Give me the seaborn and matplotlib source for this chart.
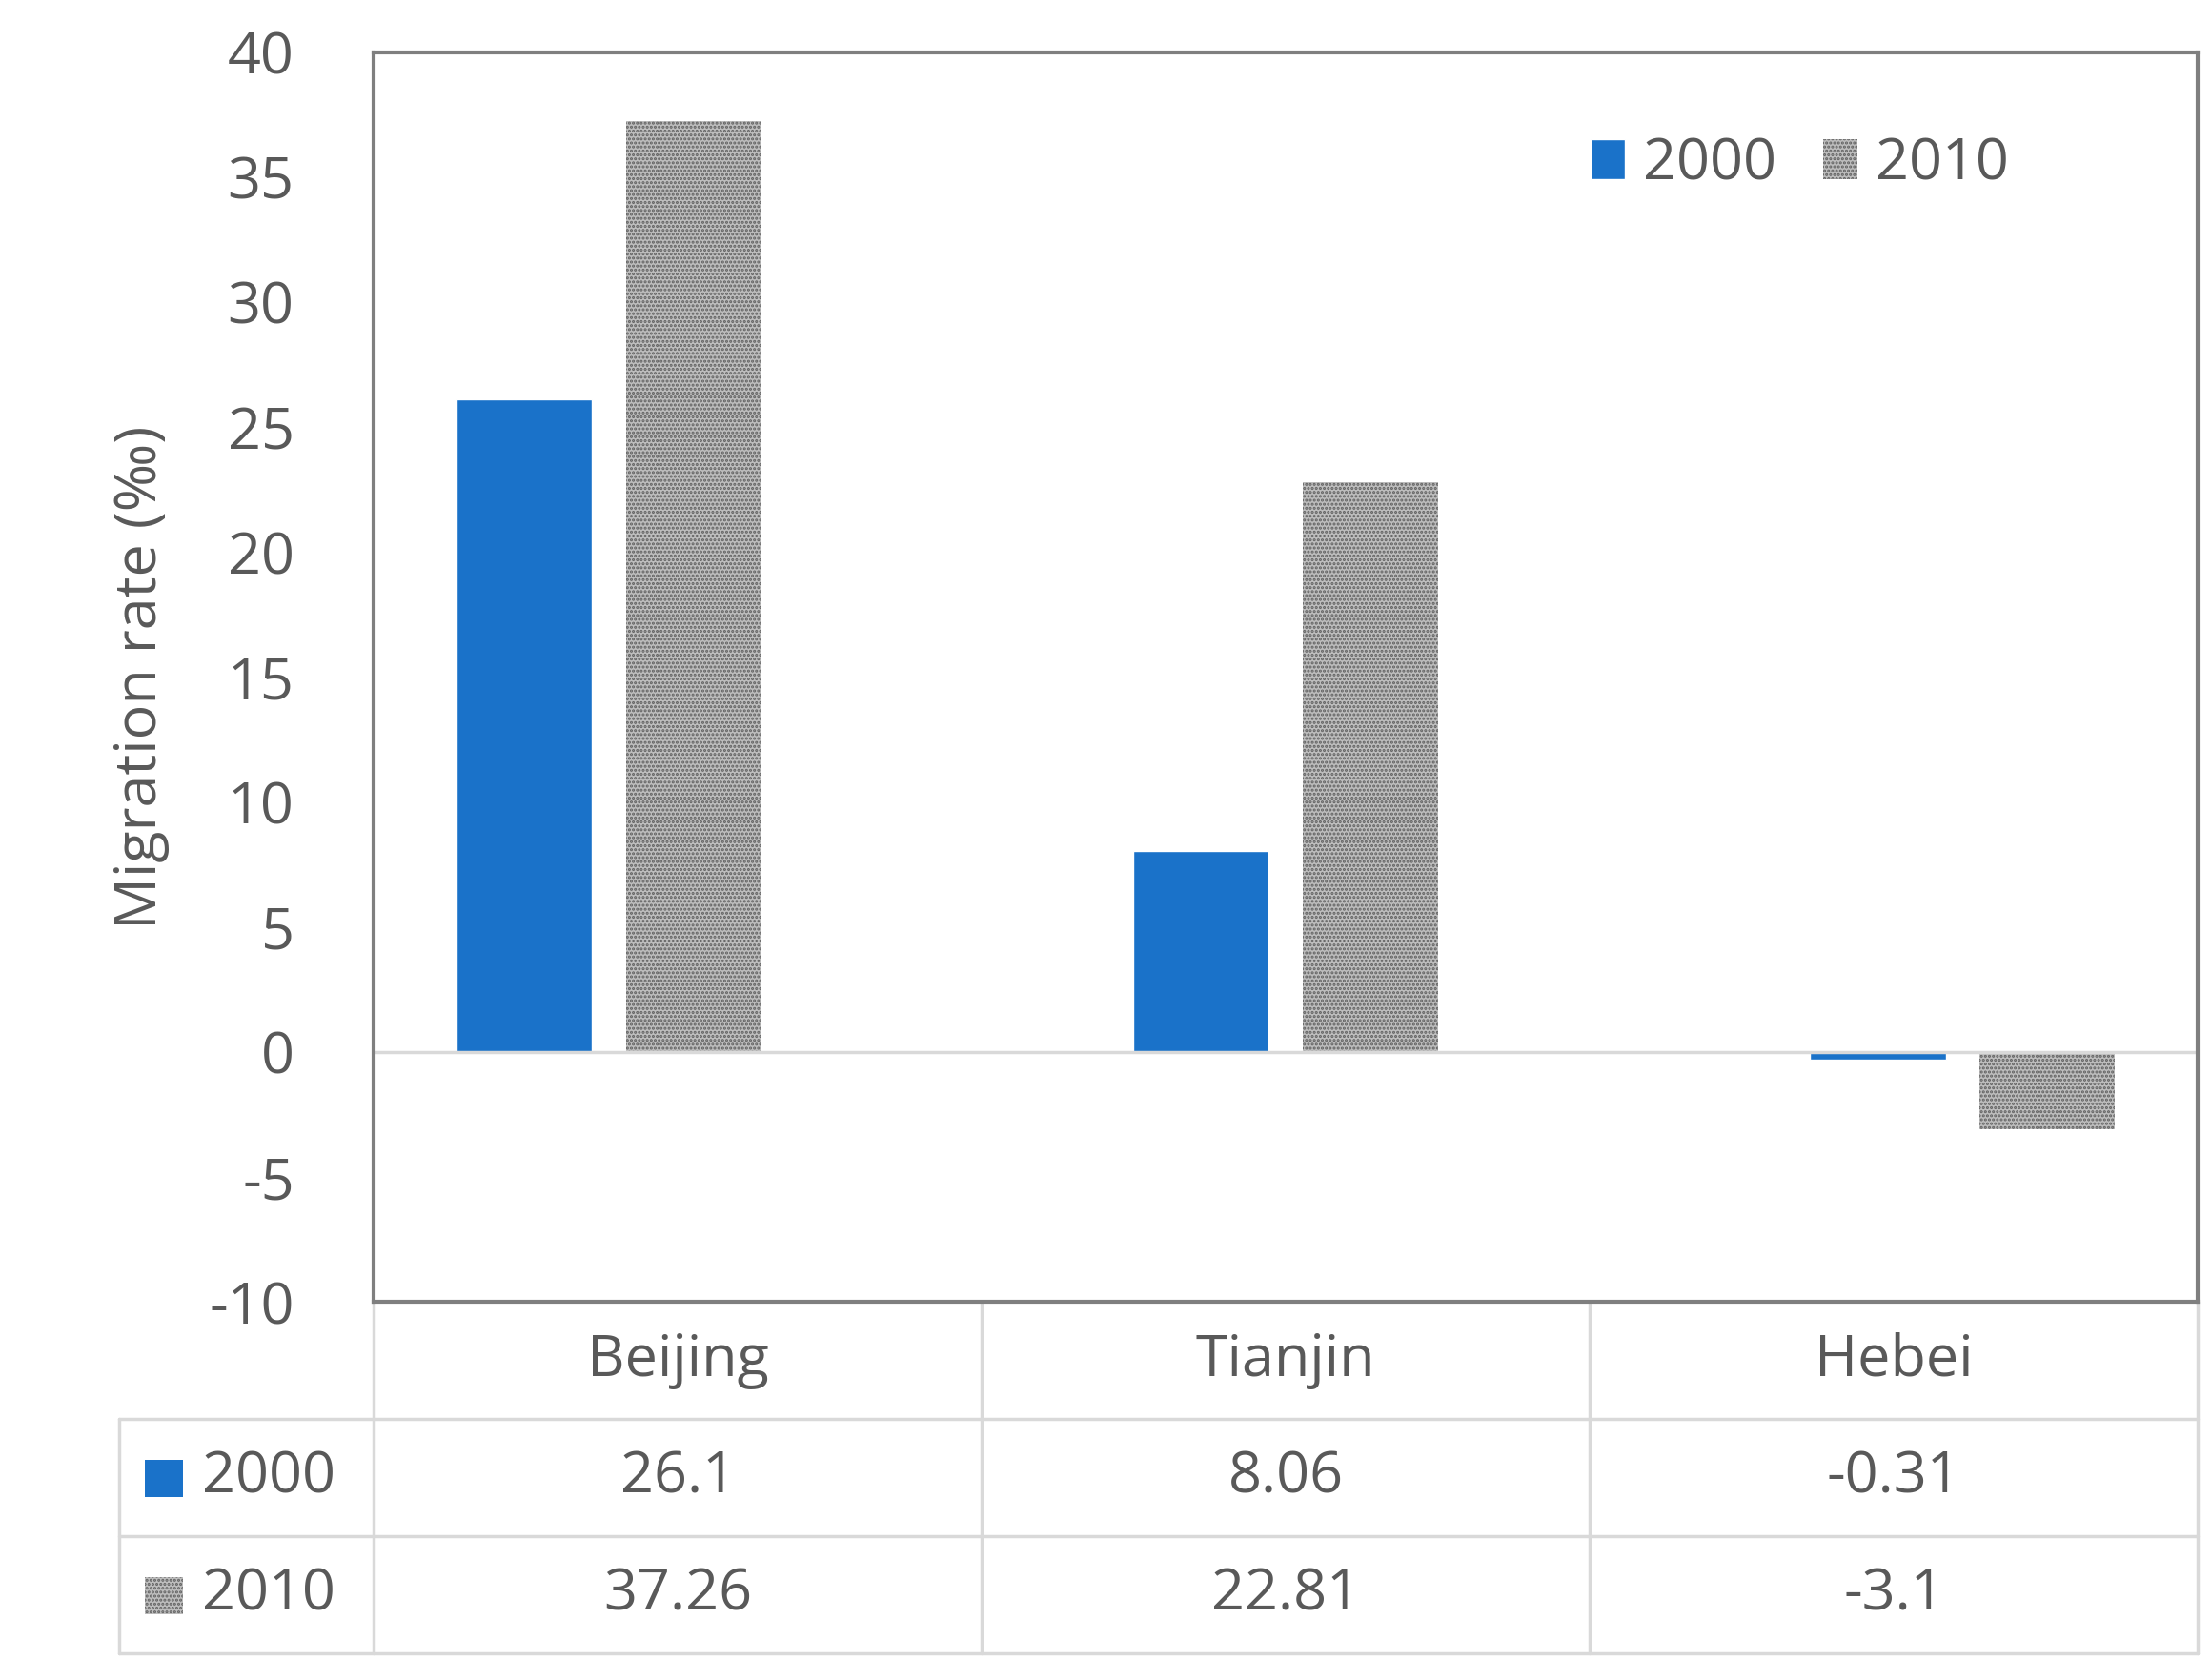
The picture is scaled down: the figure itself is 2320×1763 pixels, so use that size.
import pandas as pd
import matplotlib
matplotlib.use("Agg")
import matplotlib.pyplot as plt
import matplotlib.patches as mpatches
import seaborn as sns

regions = ["Beijing", "Tianjin", "Hebei"]
years = ["2000", "2010"]
rate_2000 = [26.1, 8.06, -0.31]
rate_2010 = [37.26, 22.81, -3.1]
labels_2000 = ["26.1", "8.06", "-0.31"]
labels_2010 = ["37.26", "22.81", "-3.1"]

df = pd.DataFrame({
    "region": regions * 2,
    "year": ["2000"] * 3 + ["2010"] * 3,
    "rate": rate_2000 + rate_2010,
})

sns.set_style("white")
plt.rcParams["font.family"] = ["Open Sans", "DejaVu Sans"]
plt.rcParams["axes.unicode_minus"] = False
plt.rcParams["hatch.linewidth"] = 1.5
txt = "#595959"
grid = "#d9d9d9"
blue = "#1a72c9"
gray = "#bdbdbd"
hatch = "...."
fs = 44

fig = plt.figure(figsize=(23.2, 17.63), dpi=100)
ax = fig.add_axes([0.169, 0.225, 0.825, 0.744])
sns.barplot(data=df, x="region", y="rate", hue="year", palette=[blue, gray],
            saturation=1, width=0.5, gap=0.2, ax=ax, legend=False)
for p in ax.patches[3:6]:
    p.set_hatch(hatch)
    p.set_edgecolor("#606060")
    p.set_linewidth(0)

ax.set_ylim(-10, 40)
ax.set_yticks(range(-10, 41, 5))
ax.tick_params(axis="y", labelsize=fs, colors=txt, length=0, pad=60)
ax.set_xticks([])
ax.set_xlabel("")
ax.set_ylabel("Migration rate (‰)", fontsize=fs, color=txt, labelpad=30)
ax.axhline(0, color=grid, lw=2.5)
for s in ax.spines.values():
    s.set_color("#7f7f7f")
    s.set_linewidth(3)

# data table below the axes
rh = 82 / 876
x0 = -178 / 1278
xs = [0, 1 / 3, 2 / 3, 1]
kw = dict(transform=ax.transAxes, clip_on=False, color=grid, lw=2.5)
for i in range(1, 4):
    ax.plot([x0, 1], [-rh * i, -rh * i], **kw)
for xv in xs:
    ax.plot([xv, xv], [0, -3 * rh], **kw)
ax.plot([x0, x0], [-rh, -3 * rh], **kw)

for j, r in enumerate(regions):
    cx = (j + 0.5) / 3
    ax.text(cx, -0.5 * rh, r, transform=ax.transAxes, ha="center", va="center", fontsize=fs, color=txt)
    ax.text(cx, -1.5 * rh, labels_2000[j], transform=ax.transAxes, ha="center", va="center", fontsize=fs, color=txt)
    ax.text(cx, -2.5 * rh, labels_2010[j], transform=ax.transAxes, ha="center", va="center", fontsize=fs, color=txt)

for k, (yr, fc) in enumerate(zip(years, [blue, gray])):
    yc = -(1.5 + k) * rh
    sq = mpatches.Rectangle((x0 + 0.014, yc - 0.016), 0.021, 0.03, transform=ax.transAxes,
                            clip_on=False, facecolor=fc, edgecolor="#606060" if k else fc,
                            lw=0, hatch=hatch if k else None)
    ax.add_patch(sq)
    ax.text(x0 + 0.045, yc, yr, transform=ax.transAxes, ha="left", va="center", fontsize=fs, color=txt)

handles = [mpatches.Patch(facecolor=blue, label="2000"),
           mpatches.Patch(facecolor=gray, edgecolor="#606060", lw=0, hatch=hatch, label="2010")]
ax.legend(handles=handles, loc="upper right", bbox_to_anchor=(0.925, 0.975), ncol=2, frameon=False,
          fontsize=fs, labelcolor=txt, handlelength=0.6, handleheight=0.7, handletextpad=0.3,
          columnspacing=0.8)

fig.savefig("out.png", dpi=100)
